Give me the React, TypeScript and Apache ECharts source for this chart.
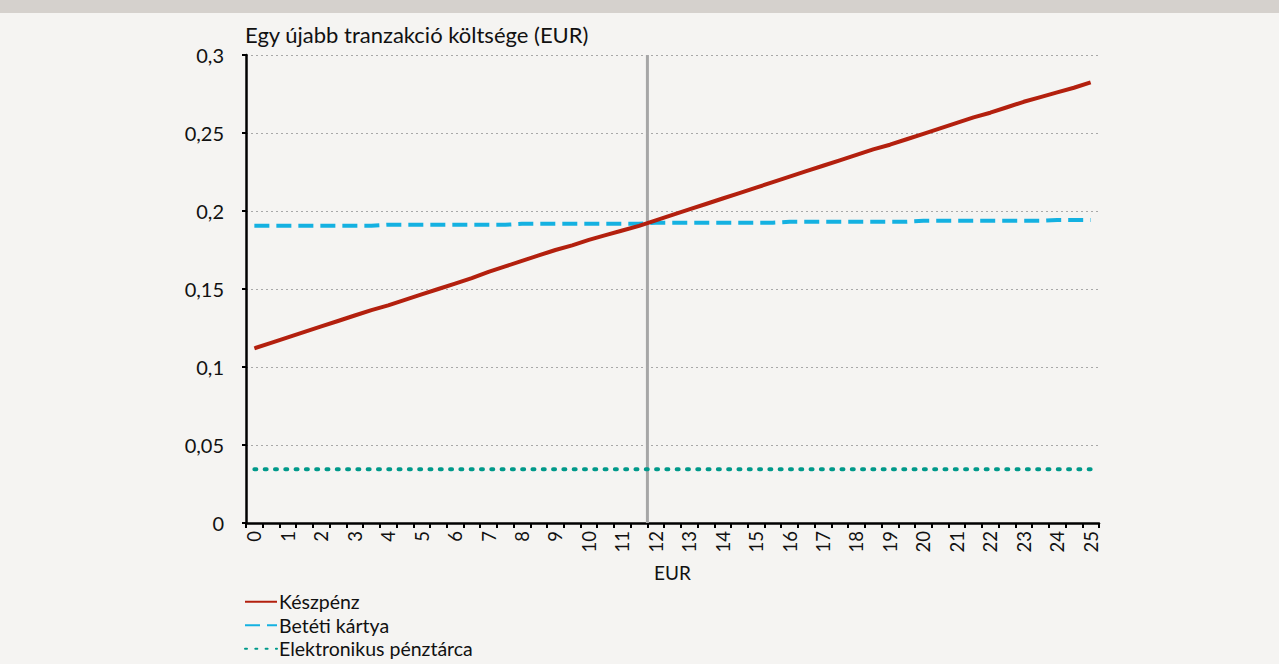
import React, { useEffect, useRef } from "react";
import * as echarts from "echarts";

// x categories: purchase amount in EUR, 0 to 25 in 0.5 steps
const amounts: number[] = [
  0, 0.5, 1, 1.5, 2, 2.5, 3, 3.5, 4, 4.5, 5, 5.5, 6, 6.5, 7, 7.5, 8, 8.5, 9, 9.5,
  10, 10.5, 11, 11.5, 12, 12.5, 13, 13.5, 14, 14.5, 15, 15.5, 16, 16.5, 17, 17.5,
  18, 18.5, 19, 19.5, 20, 20.5, 21, 21.5, 22, 22.5, 23, 23.5, 24, 24.5, 25,
];

const cash: number[] = [
  0.112, 0.1155, 0.119, 0.1225, 0.126, 0.1295, 0.133, 0.1365, 0.1395, 0.143,
  0.1465, 0.15, 0.1535, 0.157, 0.161, 0.1645, 0.168, 0.1715, 0.175, 0.178,
  0.1815, 0.1845, 0.1875, 0.1905, 0.194, 0.1975, 0.201, 0.2045, 0.208, 0.2115,
  0.215, 0.2185, 0.222, 0.2255, 0.229, 0.2325, 0.236, 0.2395, 0.2425, 0.246,
  0.2495, 0.253, 0.2565, 0.26, 0.263, 0.2665, 0.27, 0.273, 0.276, 0.279, 0.2825,
];

const debitCard: number[] = [
  0.1905, 0.1905, 0.1905, 0.1905, 0.1905, 0.1905, 0.1905, 0.1905,
  0.1912, 0.1912, 0.1912, 0.1912, 0.1912, 0.1912, 0.1912, 0.1912,
  0.1918, 0.1918, 0.1918, 0.1918, 0.1918, 0.1918, 0.1918, 0.1918,
  0.1925, 0.1925, 0.1925, 0.1925, 0.1925, 0.1925, 0.1925, 0.1925,
  0.1931, 0.1931, 0.1931, 0.1931, 0.1931, 0.1931, 0.1931, 0.1931,
  0.1937, 0.1937, 0.1937, 0.1937, 0.1937, 0.1937, 0.1937, 0.1937,
  0.1943, 0.1943, 0.1943,
];

const eWallet: number[] = [
  0.0345, 0.0345, 0.0345, 0.0345, 0.0345, 0.0345, 0.0345, 0.0345, 0.0345, 0.0345,
  0.0345, 0.0345, 0.0345, 0.0345, 0.0345, 0.0345, 0.0345, 0.0345, 0.0345, 0.0345,
  0.0345, 0.0345, 0.0345, 0.0345, 0.0345, 0.0345, 0.0345, 0.0345, 0.0345, 0.0345,
  0.0345, 0.0345, 0.0345, 0.0345, 0.0345, 0.0345, 0.0345, 0.0345, 0.0345, 0.0345,
  0.0345, 0.0345, 0.0345, 0.0345, 0.0345, 0.0345, 0.0345, 0.0345, 0.0345, 0.0345,
  0.0345,
];

// break-even amount where cash and debit card cost are equal
const crossingEur: number[] = [11.75];

const yTicks: number[] = [0, 0.05, 0.1, 0.15, 0.2, 0.25, 0.3];
const seriesNames: string[] = ["Készpénz", "Betéti kártya", "Elektronikus pénztárca"];
const yAxisTitle = "Egy újabb tranzakció költsége (EUR)";
const xAxisTitle = "EUR";

const FONT = "Lato";

export default function App() {
  const ref = useRef<HTMLDivElement>(null);

  useEffect(() => {
    if (!ref.current) return;
    const chart = echarts.init(ref.current, null, { renderer: "svg" });
    const fmt = (v: number) => String(+v.toFixed(2)).replace(".", ",");
    const cats = amounts.map((a) => fmt(a));

    chart.setOption({
      animation: false,
      backgroundColor: "#F5F4F2",
      textStyle: { fontFamily: FONT },
      graphic: [
        {
          type: "rect",
          left: 0,
          top: 0,
          shape: { width: 1279, height: 13 },
          style: { fill: "#D5D1CD" },
          silent: true,
        },
      ],
      grid: {
        left: 246,
        right: 180,
        top: 55,
        bottom: 141,
        containLabel: false,
        outerBoundsMode: "none",
      },
      legend: {
        data: seriesNames,
        orient: "vertical",
        left: 244,
        top: 590,
        itemWidth: 32,
        itemHeight: 14,
        itemGap: 0,
        padding: 0,
        itemStyle: { opacity: 0 },
        textStyle: {
          fontFamily: FONT,
          fontSize: 19.5,
          lineHeight: 23.5,
          color: "#111",
          padding: [0, 0, 0, -3],
        },
      },
      xAxis: [
        {
          type: "category",
          data: cats,
          boundaryGap: true,
          name: xAxisTitle,
          nameLocation: "middle",
          nameGap: 40,
          nameTextStyle: { fontFamily: FONT, fontSize: 19, color: "#111" },
          axisLine: { show: true, onZero: false, lineStyle: { color: "#000", width: 2.5 } },
          axisTick: { show: true, interval: 0, length: 5, lineStyle: { color: "#000", width: 2 } },
          axisLabel: {
            interval: 1,
            rotate: 90,
            margin: 8,
            fontFamily: FONT,
            fontSize: 18.5,
            color: "#111",
          },
          splitLine: { show: false },
        },
        {
          type: "value",
          show: false,
          min: amounts[0] - 0.25,
          max: amounts[amounts.length - 1] + 0.25,
        },
      ],
      yAxis: {
        type: "value",
        min: yTicks[0],
        max: yTicks[yTicks.length - 1],
        interval: 0.05,
        name: yAxisTitle,
        nameLocation: "end",
        nameGap: 10,
        nameTextStyle: {
          fontFamily: FONT,
          fontSize: 22,
          color: "#111",
          align: "left",
          padding: [0, 0, 0, -1],
        },
        axisLine: { show: true, onZero: false, lineStyle: { color: "#000", width: 2.5 } },
        axisTick: { show: true, length: 4, lineStyle: { color: "#000", width: 2 } },
        axisLabel: {
          margin: 22,
          fontFamily: FONT,
          fontSize: 20,
          color: "#111",
          formatter: (v: number) => fmt(v),
        },
        splitLine: { show: true, lineStyle: { color: "#A8A8A8", width: 1, type: [2, 3] } },
      },
      series: [
        {
          name: "crossing",
          type: "line",
          xAxisIndex: 1,
          symbol: "none",
          silent: true,
          data: [
            [crossingEur[0], yTicks[0]],
            [crossingEur[0], yTicks[yTicks.length - 1]],
          ],
          lineStyle: { color: "#A6A6A6", width: 3 },
          z: 1,
        },
        {
          name: seriesNames[2],
          type: "line",
          data: eWallet,
          symbol: "none",
          itemStyle: { color: "#00998A" },
          lineStyle: { color: "#00998A", width: 4, type: [2, 8.3], cap: "round" },
          z: 2,
        },
        {
          name: seriesNames[1],
          type: "line",
          data: debitCard,
          symbol: "none",
          itemStyle: { color: "#14B1E1" },
          lineStyle: { color: "#14B1E1", width: 4, type: [15, 7] },
          z: 3,
        },
        {
          name: seriesNames[0],
          type: "line",
          data: cash,
          symbol: "none",
          itemStyle: { color: "#B3200E" },
          lineStyle: { color: "#B3200E", width: 4 },
          z: 4,
        },
      ],
    });
    return () => chart.dispose();
  }, []);

  return (
    <div
      ref={ref}
      style={{ position: "fixed", left: 0, top: 0, width: 1279, height: 664 }}
    />
  );
}
